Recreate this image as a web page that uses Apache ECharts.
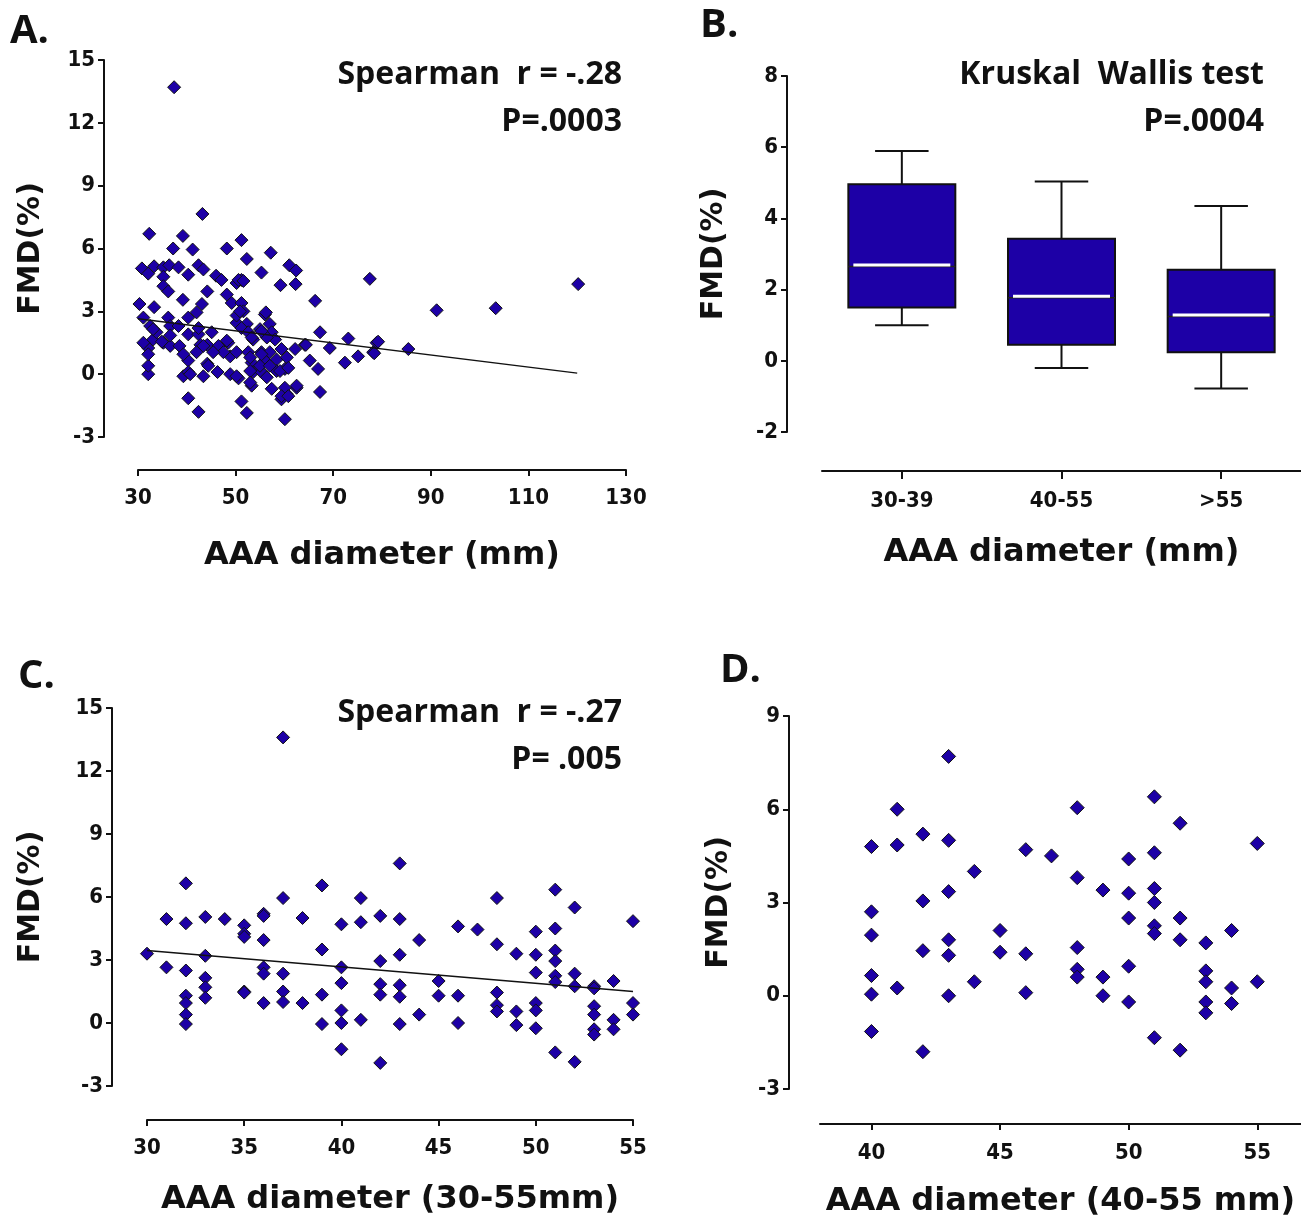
<!DOCTYPE html>
<html>
<head>
<meta charset="utf-8">
<script src="https://cdn.jsdelivr.net/npm/echarts@6/dist/echarts.min.js"></script>
<style>
  html, body { margin: 0; padding: 0; background: #fff; }
  #main { width: 1301px; height: 1219px; }
</style>
</head>
<body>
<div id="main"></div>
<script>
// A: FMD vs AAA diameter, all patients
const scatterA = [
  [37.4, 13.7],
  [43.2, 7.65], [32.3, 6.7], [39.2, 6.6], [37.2, 6.0], [41.2, 5.95], [48.2, 6.0], [51.2, 6.4], [52.3, 5.5],
  [57.2, 5.8], [55.3, 4.85], [61.0, 5.2], [62.4, 4.95], [59.2, 4.25], [62.3, 4.3], [77.5, 4.55], [66.3, 3.5],
  [30.8, 5.05], [33.3, 5.15], [32.1, 4.8], [35.2, 5.1], [36.4, 5.2], [38.3, 5.1], [40.3, 4.75], [42.4, 5.2],
  [43.4, 5.0], [35.2, 4.65], [35.2, 4.2], [36.2, 3.95], [44.2, 3.95], [39.2, 3.55], [46.0, 4.7], [47.1, 4.5],
  [50.2, 4.35], [51.2, 4.5], [48.2, 3.8], [49.2, 3.4], [51.2, 3.4], [43.1, 3.35], [42.0, 2.95], [51.6, 3.0],
  [56.0, 2.85], [30.3, 3.35], [33.3, 3.2], [31.1, 2.7], [32.5, 2.3], [36.2, 2.7], [36.6, 2.3], [40.3, 2.7],
  [38.3, 2.3], [50.2, 2.45], [52.3, 2.4], [55.0, 2.15], [57.0, 2.4], [57.4, 2.0], [67.3, 2.0], [73.1, 1.7],
  [78.9, 1.5], [69.3, 1.25], [64.2, 1.4], [62.2, 1.2], [65.2, 0.65], [66.9, 0.25], [72.4, 0.55], [75.1, 0.85],
  [78.2, 1.05], [67.3, -0.85], [60.1, -2.15], [52.3, -1.85], [51.2, -1.3], [40.3, -1.15], [42.4, -1.8],
  [59.4, -1.2], [60.5, -0.95], [57.4, -0.7], [62.5, -0.65], [32.1, 0.0], [32.1, 0.4], [32.1, 1.25],
  [33.1, 1.65], [31.1, 1.5], [35.2, 1.5], [36.6, 1.35], [38.5, 1.35], [40.3, 1.9], [42.4, 1.9], [45.1, 2.0],
  [42.8, 1.4], [44.2, 1.4], [46.5, 1.35], [48.5, 1.5], [40.3, 0.65], [39.3, -0.1], [40.3, 0.1], [43.4, -0.1],
  [44.2, 0.5], [46.3, 0.1], [48.9, 0.85], [50.2, 1.05], [48.9, 0.0], [50.6, -0.2], [52.6, 1.05], [53.3, 0.55],
  [53.6, 0.1], [53.3, -0.55], [55.3, 1.05], [56.0, 0.65], [57.0, 1.05], [58.4, 0.7], [59.4, 1.2], [58.4, 0.15],
  [60.1, 0.25], [55.3, 0.1], [56.4, -0.15], [50.2, 2.8], [51.2, 2.2], [52.6, 2.0], [53.6, 1.65], [58.1, 1.65],
  [56.4, 1.75], [33.8, 2.0], [36.6, 1.85], [47.5, 1.05], [45.4, 1.05], [42.0, 1.05],
  [33.1, 2.15], [42.4, 2.2], [48.2, 1.6], [39.3, 0.95], [32.1, 0.95], [40.7, 0.0], [44.4, 0.4], [50.9, 3.0],
  [56.2, 2.95], [55.3, 2.05], [53.3, 1.75], [64.4, 1.4], [53.0, 0.8], [55.3, 0.95], [60.5, 0.8], [55.0, 0.4],
  [57.0, 0.4], [53.0, 0.15], [59.1, 0.15], [60.8, 0.3], [50.2, -0.1], [53.0, -0.4], [60.1, -0.65],
  [62.5, -0.55], [59.4, -1.05], [60.8, -1.05], [50.6, 4.5], [51.6, 4.45], [34.9, 1.55], [43.4, 1.35],
  [91.2, 3.05], [103.3, 3.15], [120.2, 4.3], [79.2, 1.55], [78.4, 1.0], [85.4, 1.2]
];
const regA = [[30, 2.65], [120, 0.05]];

// B: box plot by diameter group
const groupsB = ['30-39', '40-55', '>55'];
const lowB = [1.0, -0.2, -0.78];
const q1B = [1.5, 0.45, 0.24];
const medB = [2.69, 1.81, 1.29];
const q3B = [4.96, 3.43, 2.56];
const highB = [5.89, 5.04, 4.35];

// C: 30-55 mm
const scatterC = [
  [37, 13.6], [32, 6.65], [43, 7.6], [39, 6.55], [37, 5.95], [41, 5.95], [31, 4.95], [32, 4.75], [33, 5.05],
  [34, 4.95], [35, 4.65], [35, 4.25], [35, 4.1], [36, 5.2], [36, 5.1], [38, 5.0], [40, 4.7], [41, 4.8],
  [42, 5.1], [36, 3.95], [39, 3.5], [30, 3.3], [33, 3.2], [31, 2.65], [32, 2.5], [36, 2.65], [36, 2.35],
  [37, 2.35], [40, 2.65], [40, 1.9], [42, 2.95], [42, 1.85], [42, 1.35], [33, 2.15], [33, 1.7], [33, 1.2],
  [32, 1.3], [32, 0.95], [32, 0.4], [32, -0.05], [35, 1.5], [35, 1.45], [37, 1.5], [37, 1.0], [36, 0.95],
  [38, 0.95], [39, 1.35], [39, -0.05], [40, 0.6], [40, 0.0], [41, 0.15], [40, -1.25], [42, -1.9],
  [43, 4.95], [44, 3.95], [46, 4.6], [47, 4.45], [48, 5.95], [48, 3.75], [49, 3.3], [50, 4.35], [50, 3.25],
  [50, 2.4], [51, 6.35], [51, 4.5], [51, 3.45], [51, 2.95], [51, 2.25], [51, 1.95], [52, 5.5], [52, 2.35],
  [52, 1.75], [53, 1.75], [53, 1.65], [54, 2.0], [55, 4.85], [55, 0.95], [55, 0.4], [43, 3.25], [43, 1.8],
  [43, 1.25], [43, -0.05], [44, 0.4], [45, 2.0], [45, 1.3], [46, 1.3], [46, 0.0], [48, 1.45], [48, 0.85],
  [48, 0.55], [49, 0.55], [49, -0.1], [50, 0.95], [50, 0.6], [50, -0.25], [51, -1.4], [52, -1.85],
  [53, 0.8], [53, 0.4], [53, -0.3], [53, -0.55], [54, 0.15], [54, -0.3]
];
const regC = [[30, 3.45], [55, 1.5]];

// D: 40-55 mm
const scatterD = [
  [43, 7.7], [41, 6.0], [42, 5.2], [43, 5.0], [40, 4.8], [41, 4.85], [46, 4.7], [47, 4.5], [44, 4.0],
  [43, 3.35], [42, 3.05], [40, 2.7], [40, 1.95], [45, 2.1], [43, 1.8], [42, 1.45], [43, 1.3], [45, 1.4],
  [46, 1.35], [40, 0.65], [40, 0.05], [41, 0.25], [44, 0.45], [43, 0.0], [46, 0.1], [40, -1.15], [42, -1.8],
  [48, 6.05], [51, 6.4], [52, 5.55], [55, 4.9], [50, 4.4], [51, 4.6], [48, 3.8], [49, 3.4], [50, 3.3],
  [51, 3.45], [51, 3.0], [50, 2.5], [52, 2.5], [51, 2.25], [51, 2.0], [52, 1.8], [53, 1.7], [54, 2.1],
  [48, 1.55], [48, 0.85], [48, 0.6], [49, 0.6], [50, 0.95], [49, 0.0], [50, -0.2], [53, 0.8], [53, 0.45],
  [54, 0.25], [55, 0.45], [53, -0.2], [53, -0.55], [54, -0.25], [51, -1.35], [52, -1.75]
];
const ticksD = [40, 45, 50, 55];

const BLUE = '#1d00a6';
const tickFont = { color: '#111', fontSize: 22, fontWeight: 'bold', fontFamily: 'Liberation Sans Narrow, DejaVu Sans Condensed, Arial Narrow, sans-serif' };
const nameFont = { color: '#111', fontWeight: 'bold', fontFamily: 'DejaVu Sans, Verdana, sans-serif' };
const noteFont = 'bold 32px "Open Sans", Carlito, Lato, sans-serif';
const letterFont = 'bold 40px "Open Sans", Carlito, Lato, sans-serif';

function valAxis(grid, min, max, interval, offset, name, nameGap, size, labelMargin) {
  return {
    type: 'value', gridIndex: grid, min: min, max: max, interval: interval, offset: offset,
    name: name, nameLocation: 'middle', nameGap: nameGap,
    nameTextStyle: Object.assign({ fontSize: size }, nameFont),
    axisLine: { show: true, onZero: false, lineStyle: { color: '#111', width: 2 } },
    axisTick: { show: true, length: 6, lineStyle: { color: '#111', width: 2 } },
    axisLabel: Object.assign({ margin: labelMargin || 9 }, tickFont),
    splitLine: { show: false }
  };
}

function scatter(xi, data, size) {
  return {
    type: 'scatter', xAxisIndex: xi, yAxisIndex: xi, data: data, symbol: 'diamond', symbolSize: size,
    itemStyle: { color: BLUE, borderColor: '#111', borderWidth: 1, opacity: 1 }, z: 2
  };
}

function regLine(xi, data) {
  return {
    type: 'line', xAxisIndex: xi, yAxisIndex: xi, data: data, showSymbol: false, silent: true,
    lineStyle: { color: '#111', width: 1.5 }, z: 3
  };
}

const xD = valAxis(3, 38, 56.7, null, 35, 'AAA diameter (40-55 mm)', 62, 32, 18);
xD.axisLabel.customValues = ticksD;
xD.axisTick.customValues = ticksD;

const boxRows = groupsB.map((g, i) => [i, lowB[i], q1B[i], medB[i], q3B[i], highB[i]]);

const myChart = echarts.init(document.getElementById('main'));
const option = {
  backgroundColor: '#fff',
  animation: false,
  grid: [
    { left: 138, top: 60, width: 488, height: 377 },
    { left: 822, top: 76, width: 487, height: 356 },
    { left: 147, top: 708, width: 486, height: 378 },
    { left: 820, top: 716, width: 481, height: 373 }
  ],
  xAxis: [
    valAxis(0, 30, 130, 20, 33, 'AAA diameter (mm)', 70, 32, 17),
    {
      type: 'category', gridIndex: 1, data: groupsB, offset: 39,
      name: 'AAA diameter (mm)', nameLocation: 'middle', nameGap: 66,
      nameTextStyle: Object.assign({ fontSize: 32 }, nameFont),
      axisLine: { show: true, onZero: false, lineStyle: { color: '#111', width: 2 } },
      axisTick: { show: true, alignWithLabel: true, length: 8, lineStyle: { color: '#111', width: 2 } },
      axisLabel: Object.assign({ margin: 19 }, tickFont)
    },
    valAxis(2, 30, 55, 5, 34, 'AAA diameter (30-55mm)', 64, 32, 17),
    xD
  ],
  yAxis: [
    valAxis(0, -3, 15, 3, 34, 'FMD(%)', 58, 30),
    valAxis(1, -2, 8, 2, 35, 'FMD(%)', 58, 30),
    valAxis(2, -3, 15, 3, 35, 'FMD(%)', 66, 30),
    valAxis(3, -3, 9, 3, 31, 'FMD(%)', 55, 30)
  ],
  series: [
    scatter(0, scatterA, 13),
    regLine(0, regA),
    {
      type: 'custom', xAxisIndex: 1, yAxisIndex: 1, data: boxRows,
      encode: { x: 0, y: [1, 2, 3, 4, 5] },
      renderItem: function (params, api) {
        const i = api.value(0);
        const half = api.size([1, 0])[0] * 0.335;
        const cap = half / 2;
        const pLow = api.coord([i, api.value(1)]);
        const pQ1 = api.coord([i, api.value(2)]);
        const pMed = api.coord([i, api.value(3)]);
        const pQ3 = api.coord([i, api.value(4)]);
        const pHigh = api.coord([i, api.value(5)]);
        const x = pLow[0];
        const black = { stroke: '#111', lineWidth: 2 };
        return {
          type: 'group',
          children: [
            { type: 'line', shape: { x1: x, y1: pHigh[1], x2: x, y2: pQ3[1] }, style: black },
            { type: 'line', shape: { x1: x, y1: pQ1[1], x2: x, y2: pLow[1] }, style: black },
            { type: 'line', shape: { x1: x - cap, y1: pHigh[1], x2: x + cap, y2: pHigh[1] }, style: black },
            { type: 'line', shape: { x1: x - cap, y1: pLow[1], x2: x + cap, y2: pLow[1] }, style: black },
            { type: 'rect', shape: { x: x - half, y: pQ3[1], width: half * 2, height: pQ1[1] - pQ3[1] },
              style: { fill: BLUE, stroke: '#111', lineWidth: 2 } },
            { type: 'line', shape: { x1: x - half, y1: pMed[1] + 1.5, x2: x + half, y2: pMed[1] + 1.5 },
              style: { stroke: '#222', lineWidth: 1.5 } },
            { type: 'line', shape: { x1: x - half + 5, y1: pMed[1], x2: x + half - 5, y2: pMed[1] },
              style: { stroke: '#fff', lineWidth: 3 } }
          ]
        };
      }
    },
    scatter(2, scatterC, 13),
    regLine(2, regC),
    scatter(3, scatterD, 14)
  ],
  graphic: [
    { type: 'text', x: 10, y: 12, style: { text: 'A.', font: letterFont, fill: '#111' } },
    { type: 'text', x: 700, y: 6, style: { text: 'B.', font: letterFont, fill: '#111' } },
    { type: 'text', x: 18, y: 657, style: { text: 'C.', font: letterFont, fill: '#111' } },
    { type: 'text', x: 720, y: 651, style: { text: 'D.', font: letterFont, fill: '#111' } },
    { type: 'text', x: 622, y: 75, style: { text: 'Spearman  r = -.28', font: noteFont, fill: '#111', align: 'right', verticalAlign: 'middle' } },
    { type: 'text', x: 622, y: 122, style: { text: 'P=.0003', font: noteFont, fill: '#111', align: 'right', verticalAlign: 'middle' } },
    { type: 'text', x: 1264, y: 75, style: { text: 'Kruskal  Wallis test', font: noteFont, fill: '#111', align: 'right', verticalAlign: 'middle' } },
    { type: 'text', x: 1264, y: 122, style: { text: 'P=.0004', font: noteFont, fill: '#111', align: 'right', verticalAlign: 'middle' } },
    { type: 'text', x: 622, y: 713, style: { text: 'Spearman  r = -.27', font: noteFont, fill: '#111', align: 'right', verticalAlign: 'middle' } },
    { type: 'text', x: 622, y: 760, style: { text: 'P= .005', font: noteFont, fill: '#111', align: 'right', verticalAlign: 'middle' } }
  ]
};
option && myChart.setOption(option);
</script>
</body>
</html>
